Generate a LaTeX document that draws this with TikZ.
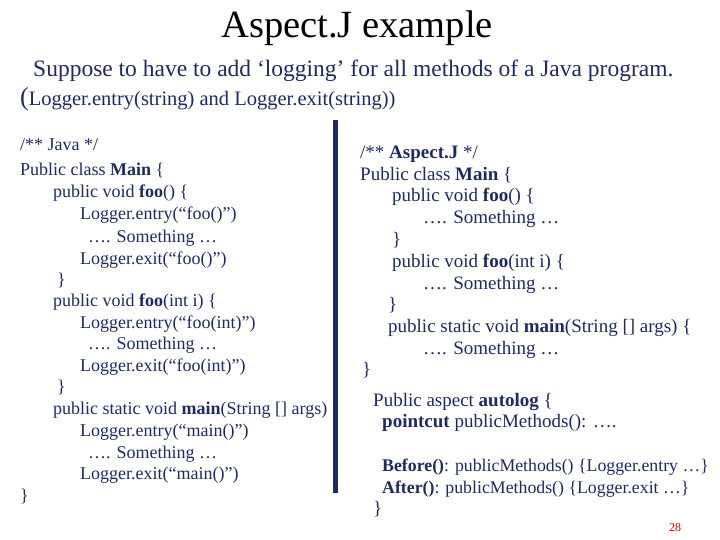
\documentclass[tikz,border=0pt]{standalone}
\usepackage{fontspec}
\setmainfont{Liberation Serif}
\definecolor{navy}{HTML}{1F2B5E}
\begin{document}
\begin{tikzpicture}[x=1pt,y=-1pt,
  code/.style={anchor=base west,inner sep=0pt,text=navy,font=\fontsize{18}{18}\selectfont},
  rcode/.style={code,font=\fontsize{19}{19}\selectfont},
  bcode/.style={code,font=\fontsize{17.8}{19}\selectfont}]
\useasboundingbox (0,0) rectangle (720,540);
\node[anchor=center,font=\fontsize{38.5}{40}\selectfont,text=black] (t) at (357,28) {Aspect.J example};
\node[code,font=\fontsize{23.5}{24}\selectfont] (s1) at (33,77) {Suppose to have to add ‘logging’ for all methods of a Java program.};
\node[code,font=\fontsize{20.5}{24}\selectfont] (s2) at (20,106) {{\fontsize{26}{24}\selectfont(}Logger.entry(string) and Logger.exit(string))};
\fill[navy] (333,120) rectangle (338,493);
% left
\node[code] (l1) at (20,151) {/** Java */};
\node[code] (l2) at (20,176) {Public class \textbf{Main} \{};
\node[code] (l3) at (53,198) {public void \textbf{foo}() \{};
\node[code] (l4) at (80,220) {Logger.entry(“foo()”)};
\node[code] (l5) at (88,242) {…. Something …};
\node[code] (l6) at (80,264) {Logger.exit(“foo()”)};
\node[code] (l7) at (57,285) {\}};
\node[code] (l8) at (53,306) {public void \textbf{foo}(int i) \{};
\node[code] (l9) at (80,328) {Logger.entry(“foo(int)”)};
\node[code] (l10) at (88,349) {…. Something …};
\node[code] (l11) at (80,371) {Logger.exit(“foo(int)”)};
\node[code] (l12) at (57,392) {\}};
\node[code] (l13) at (53,414) {public static void \textbf{main}(String [] args)};
\node[code] (l14) at (80,436) {Logger.entry(“main()”)};
\node[code] (l15) at (88,458) {…. Something …};
\node[code] (l16) at (80,479) {Logger.exit(“main()”)};
\node[code] (l17) at (20,501) {\}};
% right
\node[rcode] (r1) at (360,159) {/** \textbf{Aspect.J} */};
\node[rcode] (r2) at (360,181) {Public class \textbf{Main} \{};
\node[rcode] (r3) at (392,202) {public void \textbf{foo}() \{};
\node[rcode] (r4) at (423,224) {…. Something …};
\node[rcode] (r5) at (392,245) {\}};
\node[rcode] (r6) at (392,267) {public void \textbf{foo}(int i) \{};
\node[rcode] (r7) at (423,289) {…. Something …};
\node[rcode] (r8) at (388,310) {\}};
\node[rcode] (r9) at (388,332) {public static void \textbf{main}(String [] args) \{};
\node[rcode] (r10) at (423,354) {…. Something …};
\node[rcode] (r11) at (362,375) {\}};
\node[rcode] (r12) at (373,406) {Public aspect \textbf{autolog} \{};
\node[rcode] (r13) at (382,427) {\textbf{pointcut} publicMethods(): ….};
\node[bcode] (r14) at (382,471) {\textbf{Before()}: publicMethods() \{Logger.entry …\}};
\node[bcode] (r15) at (382,493) {\textbf{After()}: publicMethods() \{Logger.exit …\}};
\node[rcode] (r16) at (373,514) {\}};
\node[code,text=red!80!black,font=\fontsize{12}{14}\selectfont] (pg) at (669,531) {28};
\end{tikzpicture}
\end{document}
